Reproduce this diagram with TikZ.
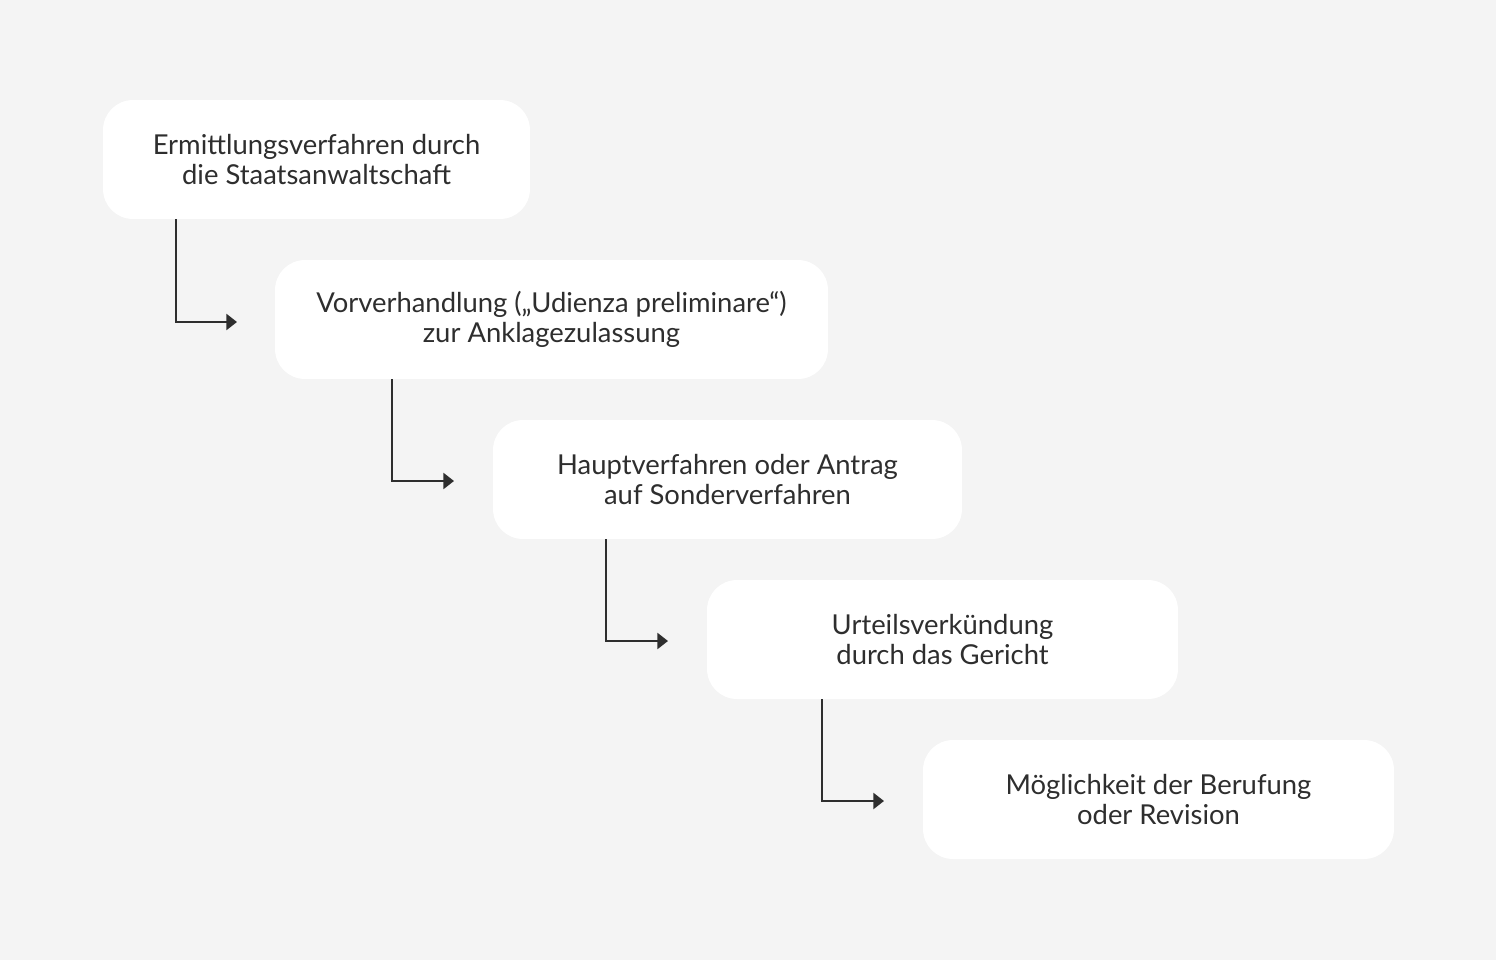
\documentclass[tikz,border=0pt]{standalone}
\usepackage{fontspec}
\setmainfont{Lato}
\usetikzlibrary{arrows.meta}
\definecolor{bg}{HTML}{F4F4F4}
\definecolor{ink}{HTML}{2E2E2E}
\begin{document}
\begin{tikzpicture}[x=0.02cm,y=-0.02cm,
  stepbox/.style={fill=white,rounded corners=0.6cm,text=ink,align=center,
    font=\fontsize{15.6}{17}\selectfont,inner sep=0pt},
  conn/.style={draw=ink,line width=1.4pt,-{Triangle[length=6pt,width=9pt]}}]
\fill[bg] (0,0) rectangle (1496,960);
\useasboundingbox (0,0) rectangle (1496,960);
\node[stepbox,minimum width=8.54cm,minimum height=2.38cm] (b1) at (316.5,159.5) {Ermittlungsverfahren durch\\die Staatsanwaltschaft};
\node[stepbox,minimum width=11.06cm,minimum height=2.38cm] (b2) at (551.5,319.5) {Vorverhandlung („Udienza preliminare“)\\zur Anklagezulassung};
\node[stepbox,minimum width=9.38cm,minimum height=2.38cm] (b3) at (727.5,479.5) {Hauptverfahren oder Antrag\\auf Sonderverfahren};
\node[stepbox,minimum width=9.42cm,minimum height=2.38cm] (b4) at (942.5,639.5) {Urteilsverkündung\\durch das Gericht};
\node[stepbox,minimum width=9.42cm,minimum height=2.38cm] (b5) at (1158.5,799.5) {Möglichkeit der Berufung\\oder Revision};
\coordinate (e1) at (237,322);
\coordinate (e2) at (454,481);
\coordinate (e3) at (668,641);
\coordinate (e4) at (884,801);
\draw[conn] (b1.south -| 176,0) |- (e1);
\draw[conn] (b2.south -| 392,0) |- (e2);
\draw[conn] (b3.south -| 606,0) |- (e3);
\draw[conn] (b4.south -| 822,0) |- (e4);
\end{tikzpicture}
\end{document}
